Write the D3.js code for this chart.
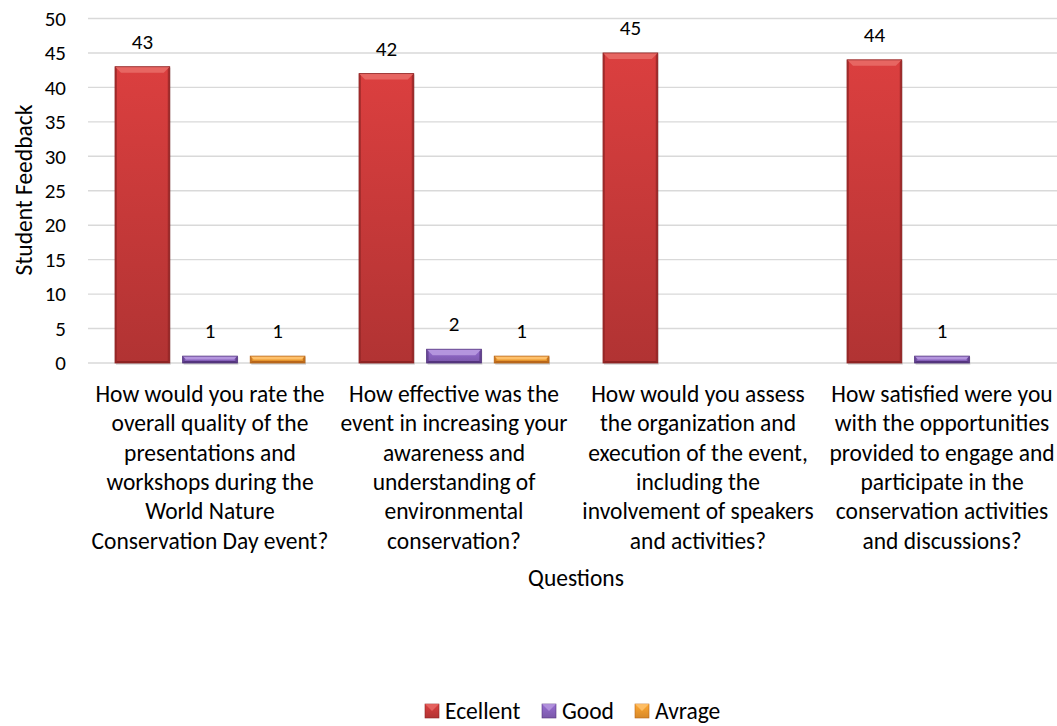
<!DOCTYPE html>
<html><head><meta charset="utf-8">
<script src="https://cdn.jsdelivr.net/npm/d3@7"></script>
<style>body{margin:0;background:#fff}svg{display:block;font-family:Carlito,Calibri,Lato,"Open Sans",sans-serif}</style>
</head><body><svg id="c" width="1057" height="726"></svg>
<script>
const categories = [
  "How would you rate the\noverall quality of the\npresentations and\nworkshops during the\nWorld Nature\nConservation Day event?",
  "How effective was the\nevent in increasing your\nawareness and\nunderstanding of\nenvironmental\nconservation?",
  "How would you assess\nthe organization and\nexecution of the event,\nincluding the\ninvolvement of speakers\nand activities?",
  "How satisfied were you\nwith the opportunities\nprovided to engage and\nparticipate in the\nconservation activities\nand discussions?"
];
const seriesNames = ["Ecellent", "Good", "Avrage"];
const excellent = [43, 42, 45, 44];
const good = [1, 2, null, 1];
const average = [1, 1, null, null];
const yTicks = [0, 5, 10, 15, 20, 25, 30, 35, 40, 45, 50];
const colors = ["#c83a3a", "#8a64c0", "#f39a2e"];
const darks = ["#8e2424", "#54357e", "#b8661a"];
const lights = ["#e86a66", "#b89ae0", "#ffc472"];

const series = [excellent, good, average];
const svg = d3.select("#c");
const m = {left: 88, right: 1064, top: 18.5, bottom: 363};
const TXT = 23.5, NUM = 21;

const x0 = d3.scaleBand().domain(d3.range(categories.length)).range([m.left, m.right]);
const x1 = d3.scaleBand().domain(d3.range(seriesNames.length)).range([27, x0.bandwidth() - 27]).paddingInner(0.19).paddingOuter(0);
const y = d3.scaleLinear().domain([0, 50]).range([m.bottom, m.top]);

const defs = svg.append("defs");
seriesNames.forEach((s, i) => {
  const g = defs.append("linearGradient").attr("id", "g" + i).attr("x1", 0).attr("x2", 0).attr("y1", 0).attr("y2", 1);
  g.append("stop").attr("offset", 0).attr("stop-color", d3.color(colors[i]).brighter(0.25));
  g.append("stop").attr("offset", 1).attr("stop-color", d3.color(colors[i]).darker(0.35));
});

// gridlines
svg.append("g").selectAll("line").data(yTicks).join("line")
  .attr("x1", m.left).attr("x2", 1057).attr("y1", d => y(d)).attr("y2", d => y(d))
  .attr("stroke", "#d9d9d9").attr("stroke-width", 1.4);

// y axis labels
const yAxis = svg.append("g").attr("transform", `translate(${m.left - 22},0)`)
  .call(d3.axisLeft(y).tickValues(yTicks).tickSize(0).tickPadding(0));
yAxis.select(".domain").remove();
yAxis.selectAll("text").attr("font-size", NUM).attr("fill", "#000").attr("font-family", "Carlito,Calibri,Lato,sans-serif");

// bars
const bars = [];
series.forEach((arr, si) => arr.forEach((v, ci) => {
  if (v == null) return;
  bars.push({si, ci, v});
}));
const bg = svg.append("g");
bars.forEach(b => {
  const bx = x0(b.ci) + x1(b.si), w = x1.bandwidth();
  const top = y(b.v), h = m.bottom - top;
  const g = bg.append("g");
  g.append("rect").attr("x", bx + 1).attr("y", top + 1).attr("width", w).attr("height", h + 1).attr("fill", "#000").attr("opacity", 0.12);
  g.append("rect").attr("x", bx).attr("y", top).attr("width", w).attr("height", h).attr("fill", `url(#g${b.si})`);
  const bv = Math.min(6, h / 2);
  g.append("rect").attr("x", bx).attr("y", top).attr("width", 2).attr("height", h).attr("fill", darks[b.si]).attr("opacity", 0.6);
  g.append("rect").attr("x", bx + w - 2).attr("y", top).attr("width", 2).attr("height", h).attr("fill", darks[b.si]).attr("opacity", 0.7);
  g.append("path").attr("d", `M${bx},${top}L${bx + w},${top}L${bx + w - bv},${top + bv}L${bx + bv},${top + bv}Z`).attr("fill", lights[b.si]).attr("opacity", 0.9);
  g.append("path").attr("d", `M${bx},${top + h}L${bx + w},${top + h}L${bx + w - 2},${top + h - 2}L${bx + 2},${top + h - 2}Z`).attr("fill", darks[b.si]);
  g.append("rect").attr("x", bx).attr("y", top).attr("width", w).attr("height", h).attr("fill", "none").attr("stroke", darks[b.si]).attr("stroke-width", 0.8);
  svg.append("text").attr("x", bx + w / 2).attr("y", top - 18).attr("text-anchor", "middle")
    .attr("font-size", NUM).attr("fill", "#000").text(b.v);
});

// category labels
categories.forEach((c, i) => {
  const t = svg.append("text").attr("text-anchor", "middle").attr("font-size", TXT).attr("fill", "#000");
  c.split("\n").forEach((ln, k) => {
    t.append("tspan").attr("x", x0(i) + x0.bandwidth() / 2).attr("y", 402 + k * 29.3).text(ln);
  });
});

// axis titles
svg.append("text").attr("x", 576).attr("y", 586).attr("text-anchor", "middle").attr("font-size", TXT).text("Questions");
svg.append("text").attr("transform", `translate(32,190) rotate(-90)`).attr("text-anchor", "middle").attr("font-size", TXT).text("Student Feedback");

// legend
const legX = [425, 542, 635];
const lg = svg.append("g");
seriesNames.forEach((s, i) => {
  lg.append("rect").attr("x", legX[i]).attr("y", 704).attr("width", 14).attr("height", 14).attr("fill", `url(#g${i})`).attr("stroke", darks[i]).attr("stroke-width", 0.6);
  lg.append("path").attr("d", `M${legX[i]},704L${legX[i] + 14},704L${legX[i] + 7},711Z`).attr("fill", lights[i]).attr("opacity", 0.8);
  lg.append("text").attr("x", legX[i] + 20).attr("y", 719).attr("font-size", TXT).text(s);
});
</script></body></html>
